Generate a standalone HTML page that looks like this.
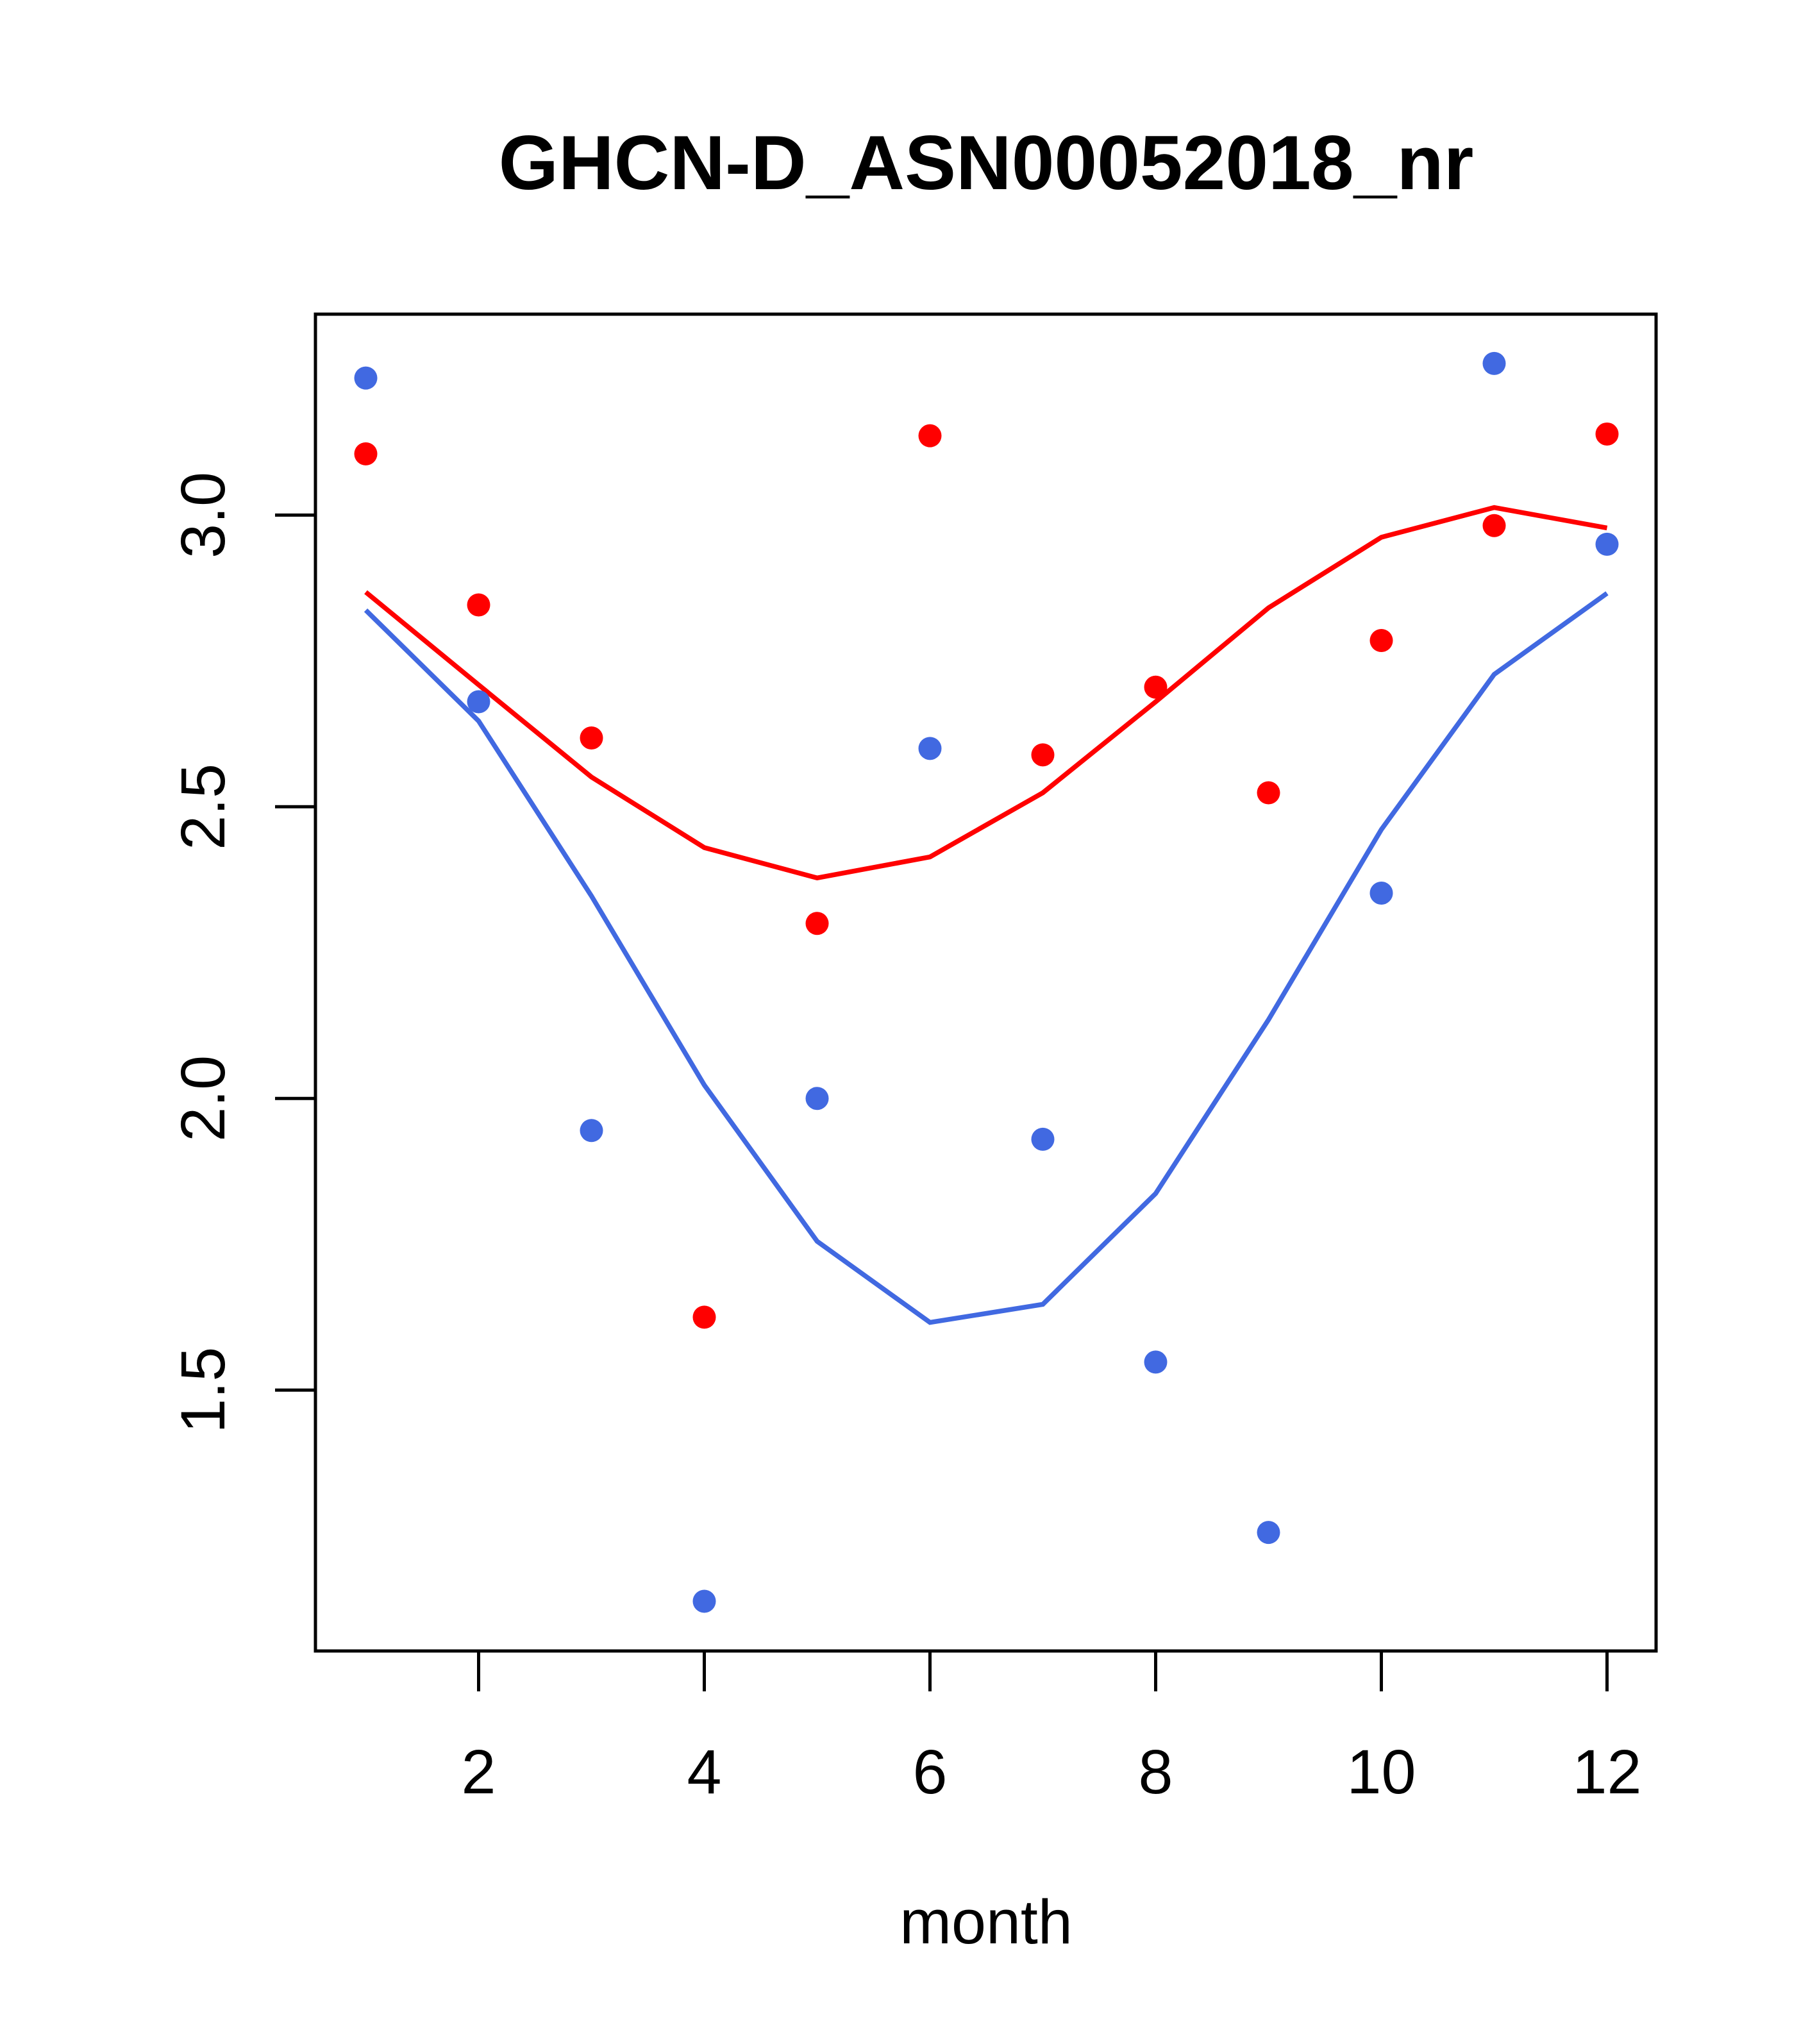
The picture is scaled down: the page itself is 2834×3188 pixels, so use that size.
<!DOCTYPE html>
<html><head><meta charset="utf-8"><style>html,body{margin:0;padding:0;background:#fff}svg{display:block}</style></head>
<body>
<svg id="chart" width="2834" height="3188" xmlns="http://www.w3.org/2000/svg" font-family="Liberation Sans, sans-serif">
<rect width="2834" height="3188" fill="#fff"/>
<text x="1538" y="295" font-size="120" font-weight="bold" text-anchor="middle">GHCN-D_ASN00052018_nr</text>
<rect x="492" y="490" width="2091" height="2085" fill="none" stroke="#000" stroke-width="5"/>
<text x="1538" y="3031" font-size="97" text-anchor="middle">month</text>
<g id="xaxis"></g>
<g id="yaxis"></g>
<g id="marks"></g>
</svg>
<script>
const months=[1,2,3,4,5,6,7,8,9,10,11,12];
const bluePoints=[3.235,2.68,1.945,1.138,2.0,2.6,1.93,1.548,1.256,2.352,3.26,2.95];
const redPoints=[3.105,2.846,2.618,1.625,2.3,3.136,2.589,2.705,2.524,2.785,2.982,3.139];
const redLine=[2.868,2.709,2.551,2.43,2.378,2.414,2.524,2.68,2.841,2.962,3.013,2.978];
const blueLine=[2.837,2.647,2.347,2.023,1.755,1.616,1.647,1.837,2.135,2.461,2.727,2.866];
const xTicks=[2,4,6,8,10,12];
const yTicks=[1.5,2.0,2.5,3.0];
const yTickLabels=["1.5","2.0","2.5","3.0"];
const NS="http://www.w3.org/2000/svg";
function xs(m){return 746.5+(m-2)*176.0;}
function ys(v){return 803.4+(3-v)*909.8;}
function mk(t,a,p){const e=document.createElementNS(NS,t);for(const k in a)e.setAttribute(k,a[k]);p.appendChild(e);return e;}
const xa=document.getElementById('xaxis'),ya=document.getElementById('yaxis'),mg=document.getElementById('marks');
xTicks.forEach(t=>{const x=xs(t);
 const l=mk('line',{x1:x,x2:x,y1:2575,y2:2638,stroke:'#000','stroke-width':5},xa);
 
 
 const tx=mk('text',{x:x,y:2797,'font-size':97,'text-anchor':'middle'},xa);tx.textContent=t;
 
 
});
yTicks.forEach((t,i)=>{const y=ys(t);
 const l=mk('line',{x1:429,x2:492,y1:y,y2:y,stroke:'#000','stroke-width':5},ya);
 
 
 const tx=mk('text',{x:350,y:y,'font-size':97,'text-anchor':'middle',transform:`rotate(-90 350 ${y})`},ya);tx.textContent=yTickLabels[i];
 
 
});
function line(vals,col,name){const p=mk('polyline',{points:vals.map((v,i)=>xs(months[i])+','+ys(v)).join(' '),fill:'none',stroke:col,'stroke-width':7.5},mg);
 
 }
function pts(vals,col,name){vals.forEach((v,i)=>{const c=mk('circle',{cx:xs(months[i]),cy:ys(v),r:18,fill:col},mg);
 
 });}
line(redLine,'#ff0000','red-line');
line(blueLine,'#4169e1','blue-line');
pts(bluePoints,'#4169e1','blue-point');
pts(redPoints,'#ff0000','red-point');
</script>
</body></html>
